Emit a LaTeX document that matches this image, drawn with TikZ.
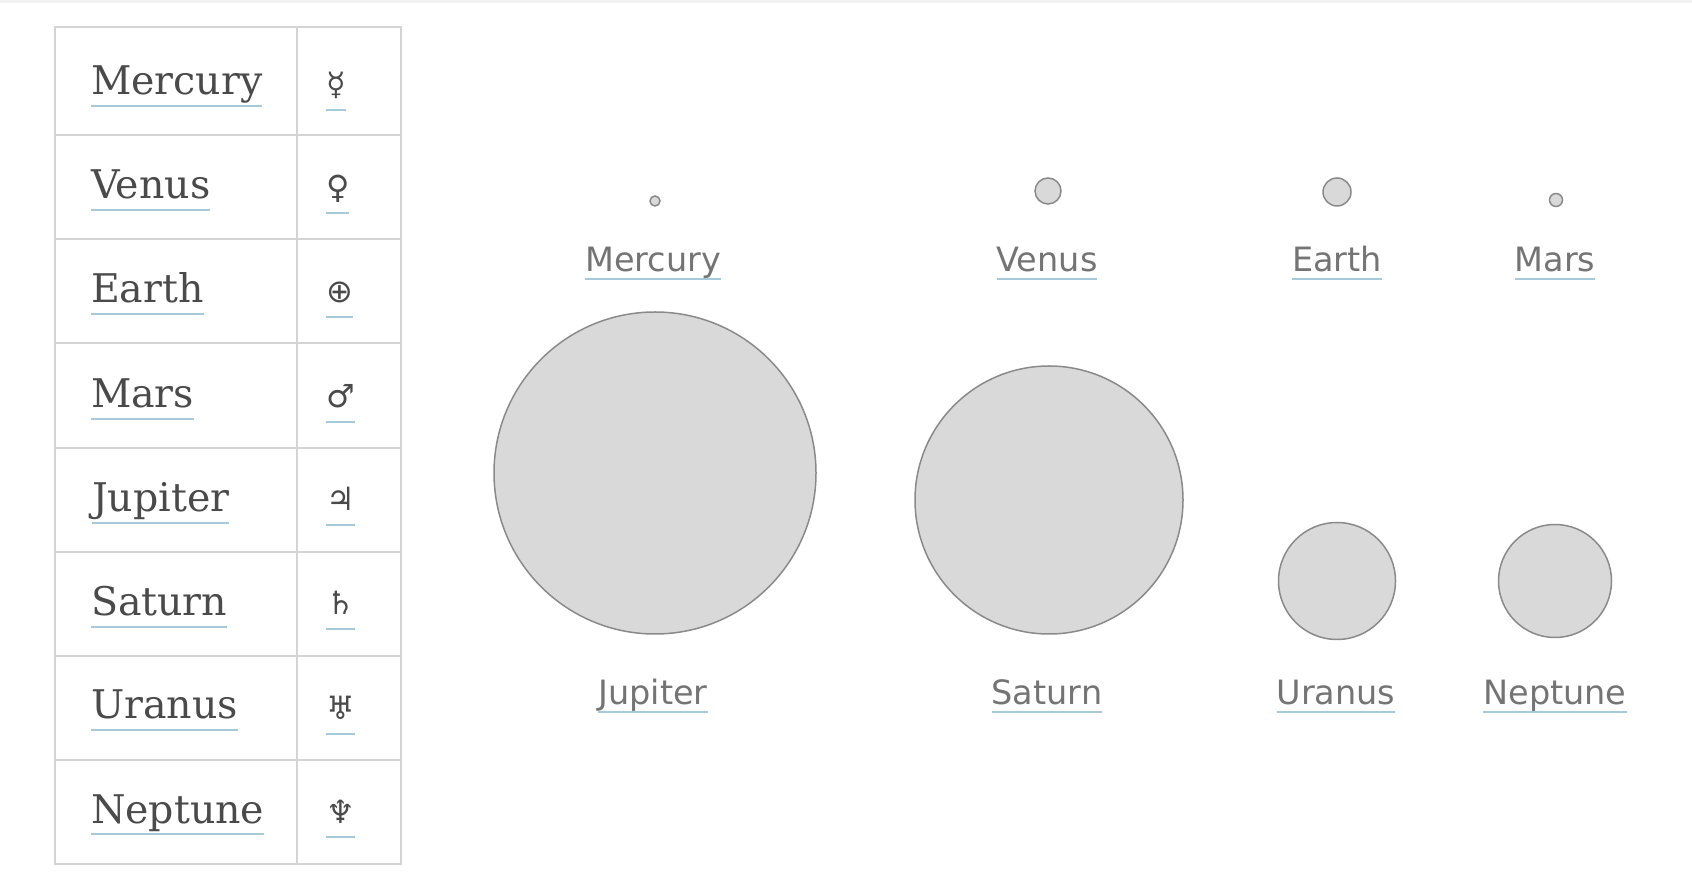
\documentclass[tikz,border=0pt]{standalone}
\usepackage{fontspec}
\setmainfont{DejaVu Serif}
\newfontfamily\labfont{DejaVu Sans}
\newfontfamily\symfont{DejaVu Sans}
\definecolor{gridc}{HTML}{D4D4D4}
\definecolor{namec}{HTML}{4A4A4A}
\definecolor{labc}{HTML}{747474}
\definecolor{ulc}{HTML}{A6CADA}
\definecolor{planetfill}{HTML}{D9D9D9}
\definecolor{planetdraw}{HTML}{8A8A8A}
\definecolor{bandc}{HTML}{F2F2F2}
\tikzset{
  gridline/.style={draw=gridc, line width=1pt},
  tname/.style={inner sep=0pt, outer sep=0pt, anchor=base west, text=namec,
    font=\fontsize{19.75}{24}\selectfont},
  tsym/.style={inner sep=0pt, outer sep=0pt, anchor=base west, text=namec,
    font=\symfont\fontsize{16}{18}\selectfont},
  planet/.style={circle, inner sep=0pt, outer sep=0pt, fill=planetfill,
    draw=planetdraw, line width=0.75pt},
  plabel/.style={inner sep=0pt, outer sep=0pt, anchor=base, text=labc,
    font=\labfont\fontsize{16.75}{20}\selectfont},
  uline/.style={draw=ulc, line width=1pt}
}
\begin{document}
\begin{tikzpicture}[x=0.5pt,y=-0.5pt]
\useasboundingbox (0,0) rectangle (1692,886);
\fill[bandc] (0,0) rectangle (1692,3);
% table grid
\draw[gridline] (55,27) rectangle (401,864);
\draw[gridline] (297,27) -- (297,864);
\foreach \yy in {135,239,343,448,552,656,760}
  \draw[gridline] (55,\yy) -- (401,\yy);
% table names
\node[tname] (tmercury) at (91,95)  {Mercury};
\node[tname] (tvenus)   at (91,199) {Venus};
\node[tname] (tearth)   at (91,303) {Earth};
\node[tname] (tmars)    at (91,408) {Mars};
\node[tname] (tjupiter) at (92,512) {Jupiter};
\node[tname] (tsaturn)  at (91,616) {Saturn};
\node[tname] (turanus)  at (91,719) {Uranus};
\node[tname] (tneptune) at (91,823) {Neptune};
% symbols
\node[tsym] (smercury) at (326,96)  {☿};
\node[tsym] (svenus)   at (326,199) {♀};
\node[tsym] (searth)   at (326,303) {⊕};
\node[tsym] (smars)    at (326,408) {♂};
\node[tsym] (sjupiter) at (326,511) {♃};
\node[tsym] (ssaturn)  at (326,615) {♄};
\node[tsym] (suranus)  at (326,720) {♅};
\node[tsym] (sneptune) at (326,823) {♆};
\foreach \n in {tmercury,tvenus,tearth,tmars,tjupiter,tsaturn,turanus,tneptune}
  \draw[uline] ([yshift=-5.5pt]\n.base west) -- ([yshift=-5.5pt]\n.base east);
\foreach \n in {smercury,svenus,searth,smars,sjupiter,ssaturn,suranus,sneptune}
  \draw[uline] ([yshift=-7pt]\n.base west) -- ([yshift=-7pt]\n.base east);
% planets
\node[planet, minimum size=5pt]   (mercury) at (655,201) {};
\node[planet, minimum size=13pt]  (venus)   at (1048,191) {};
\node[planet, minimum size=14pt]  (earth)   at (1337,192) {};
\node[planet, minimum size=6.5pt] (mars)    at (1556,200) {};
\node[planet, minimum size=161pt] (jupiter) at (655,473) {};
\node[planet, minimum size=134pt] (saturn)  at (1049,500) {};
\node[planet, minimum size=58.5pt] (uranus) at (1337,581) {};
\node[planet, minimum size=56.5pt] (neptune) at (1555,581) {};
% labels
\node[plabel] (lmercury) at (653,272)  {Mercury};
\node[plabel] (lvenus)   at (1047,272) {Venus};
\node[plabel] (learth)   at (1337,272) {Earth};
\node[plabel] (lmars)    at (1555,272) {Mars};
\node[plabel] (ljupiter) at (653,705)  {Jupiter};
\node[plabel] (lsaturn)  at (1047,705) {Saturn};
\node[plabel] (luranus)  at (1336,705) {Uranus};
\node[plabel] (lneptune) at (1555,705) {Neptune};
\foreach \n in {lmercury,lvenus,learth,lmars,ljupiter,lsaturn,luranus,lneptune}
  \draw[uline] ([yshift=-3.5pt]\n.base west) -- ([yshift=-3.5pt]\n.base east);
\end{tikzpicture}
\end{document}
